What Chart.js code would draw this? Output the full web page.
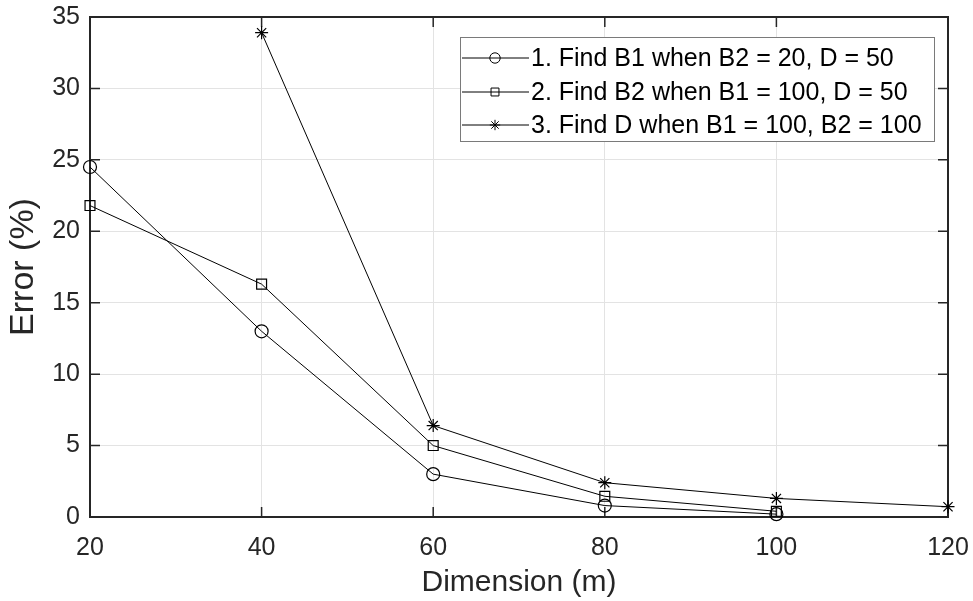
<!DOCTYPE html>
<html>
<head>
<meta charset="utf-8">
<script src="https://cdn.jsdelivr.net/npm/chart.js@4.4.1/dist/chart.umd.min.js"></script>
<style>
  html, body { margin: 0; padding: 0; background: #fff; }
  #wrap { width: 973px; height: 601px; }
</style>
</head>
<body>
<div id="wrap"><canvas id="c" width="973" height="601"></canvas></div>
<script>
const dims = [20, 40, 60, 80, 100, 120];
const findB1 = [24.5, 13.0, 3.0, 0.8, 0.2, null];
const findB2 = [21.8, 16.3, 5.0, 1.45, 0.4, null];
const findD = [null, 33.9, 6.4, 2.4, 1.3, 0.72];
const seriesNames = [
  "1. Find B1 when B2 = 20, D = 50",
  "2. Find B2 when B1 = 100, D = 50",
  "3. Find D when B1 = 100, B2 = 100",
];
const markers = ["circle", "rect", "star"];
const markerRadius = [6.5, 7, 6.5];

const axisColor = "#262626";
const font = "Arial, 'Liberation Sans', Helvetica, sans-serif";

const toPoints = vals => dims.map((d, i) => ({ x: d, y: vals[i] })).filter(p => p.y != null);

const datasets = [findB1, findB2, findD].map((vals, i) => ({
  label: seriesNames[i],
  data: toPoints(vals),
  borderColor: "#000",
  borderWidth: 1,
  pointStyle: markers[i],
  pointRadius: markerRadius[i],
  pointHoverRadius: markerRadius[i],
  pointBorderColor: "#000",
  pointBackgroundColor: "rgba(0,0,0,0)",
  pointBorderWidth: 1.2,
  tension: 0,
  clip: false,
}));

// box around the plot and inward tick marks on all four sides
const boxPlugin = {
  id: "box",
  beforeDatasetsDraw(chart) {
    const { ctx, chartArea: a, scales } = chart;
    ctx.save();
    ctx.strokeStyle = axisColor;
    ctx.lineWidth = 2;
    ctx.strokeRect(a.left, a.top, a.right - a.left, a.bottom - a.top);
    ctx.lineWidth = 1.5;
    const tl = 10;
    ctx.beginPath();
    scales.x.ticks.forEach(t => {
      const px = scales.x.getPixelForValue(t.value);
      ctx.moveTo(px, a.bottom); ctx.lineTo(px, a.bottom - tl);
      ctx.moveTo(px, a.top); ctx.lineTo(px, a.top + tl);
    });
    scales.y.ticks.forEach(t => {
      const py = scales.y.getPixelForValue(t.value);
      ctx.moveTo(a.left, py); ctx.lineTo(a.left + tl, py);
      ctx.moveTo(a.right, py); ctx.lineTo(a.right - tl, py);
    });
    ctx.stroke();
    ctx.restore();
  },
};

const legendPlugin = {
  id: "boxLegend",
  afterDraw(chart) {
    const { ctx } = chart;
    const x0 = 460, y0 = 37, w = 474, h = 104;
    const rows = [58, 92, 125];
    ctx.save();
    ctx.fillStyle = "#fff";
    ctx.fillRect(x0, y0, w, h);
    ctx.strokeStyle = "#7a7a7a";
    ctx.lineWidth = 1;
    ctx.strokeRect(x0 + 0.5, y0 + 0.5, w, h);
    chart.data.datasets.forEach((ds, i) => {
      const y = rows[i];
      ctx.strokeStyle = "#000";
      ctx.lineWidth = 1;
      ctx.beginPath();
      ctx.moveTo(462, y); ctx.lineTo(529, y);
      ctx.stroke();
      ctx.fillStyle = "rgba(0,0,0,0)";
      Chart.helpers.drawPoint(ctx, {
        pointStyle: ds.pointStyle, radius: ds.pointRadius * 0.8, borderWidth: 1.2, rotation: 0,
      }, 495, y);
      ctx.fillStyle = "#000";
      ctx.font = "25px " + font;
      ctx.textBaseline = "middle";
      ctx.textAlign = "left";
      ctx.fillText(ds.label, 531, y + 1);
    });
    ctx.restore();
  },
};

new Chart(document.getElementById("c"), {
  type: "line",
  data: { datasets },
  options: {
    responsive: false,
    animation: false,
    layout: { padding: { top: 17, right: 25, left: 0, bottom: 0 } },
    plugins: { legend: { display: false }, tooltip: { enabled: false } },
    scales: {
      x: {
        type: "linear",
        min: 20, max: 120,
        afterFit: s => { s.height = 84; s.paddingLeft = 0; s.paddingRight = 0; },
        border: { display: false },
        grid: { color: "#e3e3e3", lineWidth: 1, drawTicks: false },
        ticks: { stepSize: 20, color: axisColor, padding: 16, font: { size: 25, family: font } },
        title: {
          display: true, text: "Dimension (m)", color: axisColor,
          font: { size: 30, family: font }, padding: { top: 0, bottom: 0 },
        },
      },
      y: {
        min: 0, max: 35,
        afterFit: s => { s.width = 90; s.paddingTop = 0; s.paddingBottom = 0; },
        border: { display: false },
        grid: { color: "#e3e3e3", lineWidth: 1, drawTicks: false },
        ticks: { stepSize: 5, color: axisColor, padding: 10, font: { size: 25, family: font } },
        title: {
          display: true, text: "Error (%)", color: axisColor,
          font: { size: 34, family: font }, padding: { top: 3, bottom: 0 },
        },
      },
    },
  },
  plugins: [boxPlugin, legendPlugin],
});
</script>
</body>
</html>
